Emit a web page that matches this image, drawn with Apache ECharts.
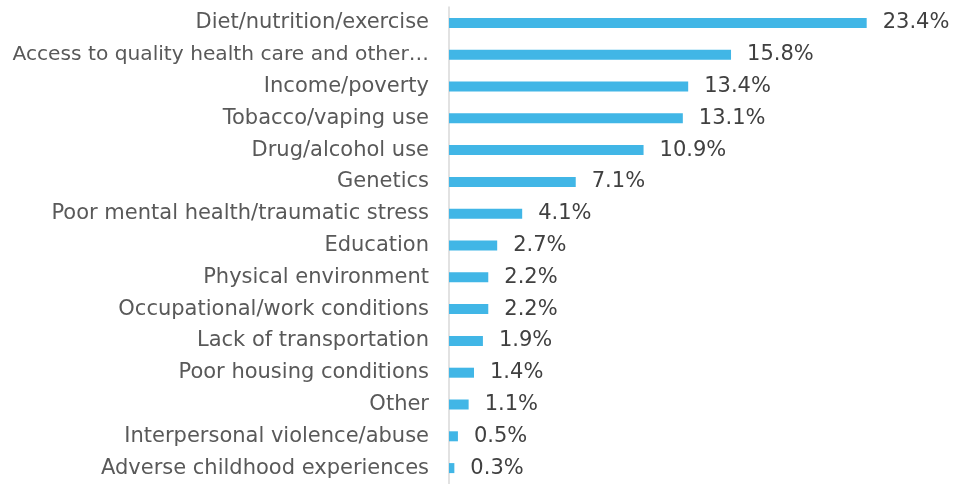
<!DOCTYPE html>
<html><head><meta charset="utf-8">
<script src="https://cdn.jsdelivr.net/npm/echarts@6/dist/echarts.min.js"></script>
<style>html,body{margin:0;padding:0;background:#fff}#c{width:956px;height:484px}</style>
</head><body><div id="c"></div>
<script>
const categories = [
  "Diet/nutrition/exercise",
  "Access to quality health care and other…",
  "Income/poverty",
  "Tobacco/vaping use",
  "Drug/alcohol use",
  "Genetics",
  "Poor mental health/traumatic stress",
  "Education",
  "Physical environment",
  "Occupational/work conditions",
  "Lack of transportation",
  "Poor housing conditions",
  "Other",
  "Interpersonal violence/abuse",
  "Adverse childhood experiences"
];
const values = [23.4, 15.8, 13.4, 13.1, 10.9, 7.1, 4.1, 2.7, 2.2, 2.2, 1.9, 1.4, 1.1, 0.5, 0.3];

const chart = echarts.init(document.getElementById('c'));
chart.setOption({
  animation: false,
  grid: { left: 449, right: 78.6, top: 7, height: 482, containLabel: false },
  xAxis: { type: 'value', min: 0, max: 24, show: false },
  yAxis: {
    type: 'category', inverse: true, data: categories,
    axisLine: { show: true, lineStyle: { color: '#d9d9d9', width: 1.5 } },
    axisTick: { show: false },
    axisLabel: {
      color: '#595959', fontSize: 21, fontFamily: 'DejaVu Sans', margin: 20,
      formatter: v => v.length > 36 ? '{s|' + v + '}' : v,
      rich: { s: { color: '#595959', fontSize: 20.2, fontFamily: 'DejaVu Sans' } }
    }
  },
  series: [{
    type: 'bar', data: values, barWidth: 10,
    itemStyle: { color: '#41b6e6' },
    label: { show: true, position: 'right', distance: 16, color: '#404040', fontSize: 21, fontFamily: 'DejaVu Sans',
      formatter: p => p.value.toFixed(1) + '%' }
  }]
});
</script></body></html>
